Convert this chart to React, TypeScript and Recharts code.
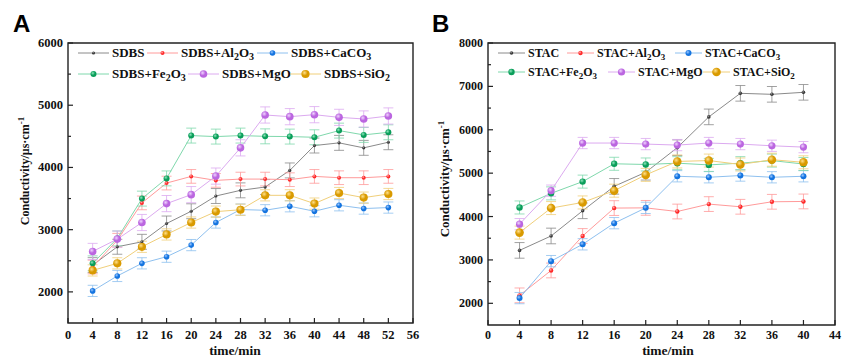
import React from 'react';
import { LineChart, Line, XAxis, YAxis, ErrorBar, ReferenceArea } from 'recharts';

// ---- panel A (SDBS) ----
const timeA = [4, 8, 12, 16, 20, 24, 28, 32, 36, 40, 44, 48, 52];
const sdbs = [2430, 2725, 2805, 3099, 3296, 3541, 3632, 3685, 3952, 4352, 4395, 4315, 4405];
const sdbsAl2O3 = [2400, 2830, 3430, 3749, 3856, 3792, 3813, 3813, 3803, 3856, 3835, 3835, 3856];
const sdbsCaCO3 = [2016, 2256, 2459, 2565, 2752, 3115, 3323, 3312, 3376, 3296, 3392, 3339, 3355];
const sdbsFe2O3 = [2459, 2859, 3499, 3824, 4512, 4496, 4512, 4500, 4496, 4485, 4592, 4523, 4565];
const sdbsMgO = [2650, 2848, 3115, 3419, 3563, 3861, 4315, 4843, 4816, 4848, 4805, 4779, 4827];
const sdbsSiO2 = [2345, 2459, 2725, 2923, 3115, 3290, 3320, 3552, 3552, 3419, 3589, 3515, 3573];
const errA = [120, 110, 90, 120, 130, 90];
const xTicksA = [0, 4, 8, 12, 16, 20, 24, 28, 32, 36, 40, 44, 48, 52, 56];
const yTicksA = [2000, 2500, 3000, 3500, 4000, 4500, 5000, 5500, 6000];

// ---- panel B (STAC) ----
const timeB = [4, 8, 12, 16, 20, 24, 28, 32, 36, 40];
const stac = [3220, 3552, 4132, 4696, 5021, 5587, 6297, 6840, 6817, 6863];
const stacAl2O3 = [2183, 2757, 3552, 4195, 4200, 4116, 4287, 4225, 4340, 4348];
const stacCaCO3 = [2120, 2972, 3360, 3847, 4200, 4928, 4905, 4945, 4905, 4928];
const stacFe2O3 = [4209, 4534, 4805, 5216, 5200, 5230, 5190, 5230, 5290, 5210];
const stacMgO = [3824, 4596, 5694, 5694, 5670, 5647, 5694, 5670, 5631, 5600];
const stacSiO2 = [3630, 4195, 4325, 4596, 4960, 5270, 5290, 5200, 5310, 5250];
const errB = [180, 170, 130, 150, 130, 150];
const xTicksB = [0, 4, 8, 12, 16, 20, 24, 28, 32, 36, 40, 44];
const yTicksB = [2000, 2500, 3000, 3500, 4000, 4500, 5000, 5500, 6000, 6500, 7000, 7500, 8000];

const labelsA = ['SDBS', 'SDBS+Al2O3', 'SDBS+CaCO3', 'SDBS+Fe2O3', 'SDBS+MgO', 'SDBS+SiO2'];
const labelsB = ['STAC', 'STAC+Al2O3', 'STAC+CaCO3', 'STAC+Fe2O3', 'STAC+MgO', 'STAC+SiO2'];

const styles = [
  { id: 'k', dot: '#3a3a3a', light: '#9a9a9a', line: '#8a8a8a', rA: 1.6, rB: 1.8 },
  { id: 'r', dot: '#ff2a2a', light: '#ffb0b0', line: '#ff9a9a', rA: 2, rB: 2.2 },
  { id: 'b', dot: '#1474e0', light: '#9cc8ff', line: '#8ec0ef', rA: 2.8, rB: 3 },
  { id: 'g', dot: '#0a9e5a', light: '#8fe6bd', line: '#7fd8ac', rA: 3, rB: 3.2 },
  { id: 'p', dot: '#bb66e0', light: '#f0d4ff', line: '#dcaaf0', rA: 3.8, rB: 3.6 },
  { id: 'o', dot: '#d99a00', light: '#ffe08a', line: '#f0cf7a', rA: 4.1, rB: 4.3 },
];

const serif = { fontFamily: "'Liberation Serif', 'DejaVu Serif', serif", fontWeight: 700 };
const sans = { fontFamily: "'Liberation Sans', Arial, sans-serif", fontWeight: 700 };

const buildRows = (time: number[], cols: number[][], errs: number[]) =>
  time.map((t, i) => {
    const row: Record<string, number> = { t };
    cols.forEach((c, j) => {
      row[`s${j}`] = c[i];
      row[`e${j}`] = errs[j];
    });
    return row;
  });

const rowsA = buildRows(timeA, [sdbs, sdbsAl2O3, sdbsCaCO3, sdbsFe2O3, sdbsMgO, sdbsSiO2], errA);
const rowsB = buildRows(timeB, [stac, stacAl2O3, stacCaCO3, stacFe2O3, stacMgO, stacSiO2], errB);

function Chem({ text, sub }: { text: string; sub: number }) {
  const parts = text.match(/\d+|\D+/g) || [];
  let down = false;
  return (
    <>
      {parts.map((p, i) => {
        const isNum = /\d/.test(p);
        let dy = 0;
        if (isNum && !down) { dy = 3; down = true; }
        else if (!isNum && down) { dy = -3; down = false; }
        return (
          <tspan key={i} dy={dy} style={isNum ? { fontSize: sub } : undefined}>{p}</tspan>
        );
      })}
    </>
  );
}

type PanelProps = {
  rows: Record<string, number>[];
  xMax: number;
  yMin: number;
  yMax: number;
  xTicks: number[];
  yTicks: number[];
  width: number;
  left: number;
  plotLeft: number;
  plotBottom: number;
  right: number;
  top: number;
  bottom: number;
  fontSize: number;
  radiusKey: 'rA' | 'rB';
};

function Panel(p: PanelProps) {
  const yTick = (props: any) => {
    const v = props.payload.value;
    const major = v % 1000 === 0;
    return (
      <g>
        <line x1={p.plotLeft} x2={p.plotLeft + (major ? 5 : 3)} y1={props.y} y2={props.y} stroke="#222" strokeWidth={1.2} />
        {major && (
          <text x={p.plotLeft - 5} y={props.y} textAnchor="end" dominantBaseline="central"
            style={{ ...serif, fontSize: p.fontSize }} fill="#111">{v}</text>
        )}
      </g>
    );
  };
  const xTick = (props: any) => (
    <g>
      <line x1={props.x} x2={props.x} y1={p.plotBottom} y2={p.plotBottom - 5} stroke="#222" strokeWidth={1.2} />
      <text x={props.x} y={335} textAnchor="middle" dominantBaseline="central"
        style={{ ...serif, fontSize: p.fontSize }} fill="#111">{props.payload.value}</text>
    </g>
  );

  return (
    <div style={{ position: 'absolute', left: p.left, top: 0 }}>
      <LineChart width={p.width} height={358} data={p.rows}
        margin={{ top: p.top, right: p.right, bottom: p.bottom, left: 8 }}>
        <XAxis dataKey="t" type="number" domain={[0, p.xMax]} ticks={p.xTicks} interval={0}
          tick={xTick} tickLine={false} axisLine={false} height={20} allowDataOverflow />
        <YAxis type="number" domain={[p.yMin, p.yMax]} ticks={p.yTicks} interval={0}
          tick={yTick} tickLine={false} axisLine={false} width={p.plotLeft - 8} allowDataOverflow />
        <ReferenceArea x1={0} x2={p.xMax} y1={p.yMin} y2={p.yMax} fill="none" stroke="#222" strokeWidth={1.4} />
        {styles.map((s, j) => {
          const r = s[p.radiusKey];
          return (
            <Line key={s.id} type="linear" dataKey={`s${j}`} stroke={s.line} strokeWidth={1}
              isAnimationActive={false} activeDot={false}
              dot={(d: any) => (
                <circle key={`${s.id}-${d.index}`} cx={d.cx} cy={d.cy} r={r} fill={`url(#grad-${s.id})`} />
              )}>
              <ErrorBar dataKey={`e${j}`} direction="y" width={5} stroke={s.line} strokeWidth={1} strokeOpacity={0.8} />
            </Line>
          );
        })}
      </LineChart>
    </div>
  );
}

function Legend({ labels, rowsY, starts, lineLen, fontSize, radiusKey }: {
  labels: string[]; rowsY: number[]; starts: number[][]; lineLen: number; fontSize: number; radiusKey: 'rA' | 'rB';
}) {
  return (
    <g>
      {styles.map((s, j) => {
        const row = Math.floor(j / 3);
        const x = starts[row][j % 3];
        const y = rowsY[row];
        return (
          <g key={s.id}>
            <line x1={x} x2={x + lineLen} y1={y} y2={y} stroke={s.line} strokeWidth={1} />
            <circle cx={x + lineLen / 2} cy={y} r={s[radiusKey]} fill={`url(#grad-${s.id})`} />
            <text x={x + lineLen + 3} y={y + fontSize * 0.33} style={{ ...serif, fontSize }} fill="#111">
              <Chem text={labels[j]} sub={fontSize - 3} />
            </text>
          </g>
        );
      })}
    </g>
  );
}

export default function App() {
  return (
    <div style={{ position: 'absolute', left: 0, top: 0, width: 845, height: 358, background: '#fff' }}>
      <Panel rows={rowsA} xMax={56} yMin={1500} yMax={6000} xTicks={xTicksA} yTicks={yTicksA}
        width={420} left={0} plotLeft={68} plotBottom={323} right={7} top={43} bottom={15}
        fontSize={12.5} radiusKey="rA" />
      <Panel rows={rowsB} xMax={44} yMin={1500} yMax={8000} xTicks={xTicksB} yTicks={yTicksB}
        width={425} left={420} plotLeft={68} plotBottom={325} right={10} top={43} bottom={13}
        fontSize={12} radiusKey="rB" />
      <svg width={845} height={358} style={{ position: 'absolute', left: 0, top: 0, pointerEvents: 'none' }}>
        <defs>
          {styles.map((s) => (
            <radialGradient key={s.id} id={`grad-${s.id}`} cx="38%" cy="35%" r="65%">
              <stop offset="0%" stopColor={s.light} />
              <stop offset="55%" stopColor={s.dot} />
              <stop offset="100%" stopColor={s.dot} />
            </radialGradient>
          ))}
        </defs>
        <text x={13} y={32} style={{ ...sans, fontSize: 24 }} fill="#000">A</text>
        <text x={432} y={32} style={{ ...sans, fontSize: 24 }} fill="#000">B</text>

        <text transform="translate(29,171) rotate(-90)" textAnchor="middle" style={{ ...serif, fontSize: 12 }} fill="#111">
          Conductivity/μs·cm<tspan dy={-5} style={{ fontSize: 9 }}>-1</tspan>
        </text>
        <text transform="translate(449,179) rotate(-90)" textAnchor="middle" style={{ ...serif, fontSize: 13 }} fill="#111">
          Conductivity/μs·cm<tspan dy={-5} style={{ fontSize: 9 }}>-1</tspan>
        </text>

        <text x={235} y={355} textAnchor="middle" style={{ ...serif, fontSize: 13.5 }} fill="#111">time/min</text>
        <text x={668} y={355} textAnchor="middle" style={{ ...serif, fontSize: 13.5 }} fill="#111">time/min</text>

        <Legend labels={labelsA} rowsY={[53, 74]} starts={[[78, 147, 257], [78, 188, 290]]} lineLen={31} fontSize={13} radiusKey="rA" />
        <Legend labels={labelsB} rowsY={[53, 72]} starts={[[498, 567, 675], [498, 608, 703]]} lineLen={27} fontSize={12} radiusKey="rB" />
      </svg>
    </div>
  );
}
